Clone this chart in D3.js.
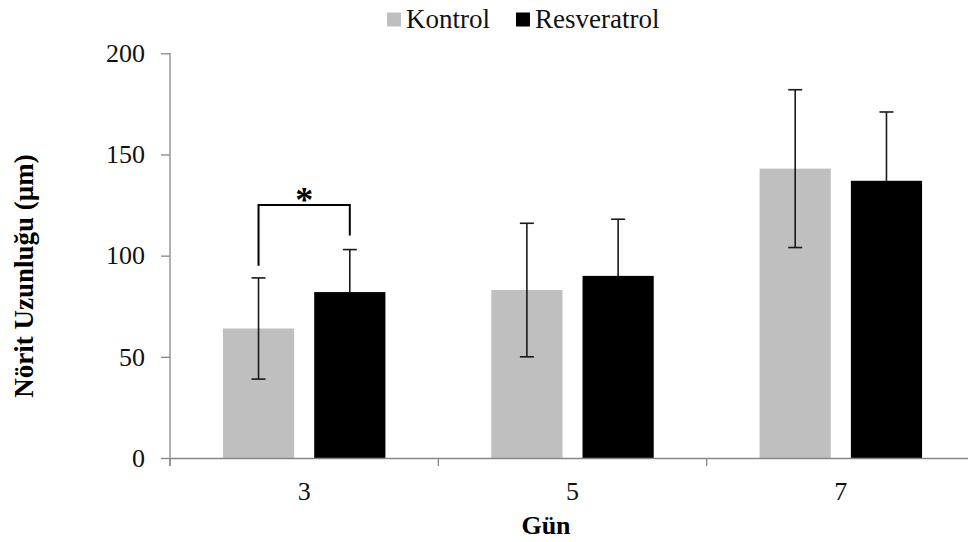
<!DOCTYPE html>
<html>
<head>
<meta charset="utf-8">
<script src="https://d3js.org/d3.v7.min.js"></script>
<style>
  body { margin: 0; background: #fff; }
  text { font-family: "Liberation Serif", "Times New Roman", serif; }
</style>
</head>
<body>
<svg id="chart" width="968" height="542"></svg>
<script>
var days = ['3', '5', '7'];
var series = ['Kontrol', 'Resveratrol'];
var colors = ['#bfbfbf', '#000000'];
var kontrol = [64, 83, 143];
var kontrolErr = [25, 33, 39];
var resveratrol = [82, 90, 137];
var resveratrolErr = [21, 28, 34];
var yTicks = [0, 50, 100, 150, 200];
// significance bracket on day 3: left leg bottom, top, right leg bottom
var sigDay = '3';
var sigLevels = [95, 125, 110];

var svg = d3.select('#chart');

var y = d3.scaleLinear().domain([0, 200]).range([458, 53.3]);
var x0 = d3.scaleBand().domain(days).range([170, 975]).padding(0);
var x1 = d3.scaleBand().domain(series).range([0, x0.bandwidth()])
    .paddingInner(0.22).paddingOuter(0.58);

var rows = [];
for (let i = 0; i < days.length; i++) {
    rows.push({ day: days[i], s: 'Kontrol', v: kontrol[i], e: kontrolErr[i], c: colors[0] });
    rows.push({ day: days[i], s: 'Resveratrol', v: resveratrol[i], e: resveratrolErr[i], c: colors[1] });
}

// bars
svg.append('g').selectAll('rect').data(rows).enter().append('rect')
    .attr('x', d => x0(d.day) + x1(d.s))
    .attr('y', d => y(d.v))
    .attr('width', x1.bandwidth())
    .attr('height', d => y(0) - y(d.v))
    .attr('fill', d => d.c);

// error bars (lower half of the black bars is hidden in the original)
let eb = svg.append('g').attr('stroke', '#1a1a1a').attr('stroke-width', 1.6);
rows.forEach(function (d) {
    let cx = x0(d.day) + x1(d.s) + x1.bandwidth() / 2;
    let lo = d.s == 'Kontrol' ? d.v - d.e : d.v;
    eb.append('line').attr('x1', cx).attr('x2', cx).attr('y1', y(d.v + d.e)).attr('y2', y(lo));
    eb.append('line').attr('x1', cx - 7).attr('x2', cx + 7).attr('y1', y(d.v + d.e)).attr('y2', y(d.v + d.e));
    if (d.s == 'Kontrol') {
        eb.append('line').attr('x1', cx - 7).attr('x2', cx + 7).attr('y1', y(lo)).attr('y2', y(lo));
    }
});

// y axis
let yAxis = svg.append('g').attr('transform', 'translate(170,0)')
    .call(d3.axisLeft(y).tickValues(yTicks).tickSize(9).tickPadding(16));
yAxis.select('.domain').attr('stroke', '#878787').attr('stroke-width', 1.3)
    .attr('d', 'M0,' + y(200) + 'V' + (y(0) + 8));
yAxis.selectAll('.tick line').attr('stroke', '#878787').attr('stroke-width', 1.3);
yAxis.selectAll('.tick text').attr('font-size', 26).attr('fill', '#111')
    .style('font-family', '"Liberation Serif", serif');

// x axis
let xAxis = svg.append('g').attr('transform', 'translate(0,' + y(0) + ')')
    .call(d3.axisBottom(x0).tickSize(0).tickPadding(24));
xAxis.select('.domain').attr('stroke', '#878787').attr('stroke-width', 1.3);
xAxis.selectAll('.tick text').attr('font-size', 26).attr('fill', '#111')
    .style('font-family', '"Liberation Serif", serif');
// boundary ticks between categories
svg.append('g').selectAll('line').data(days).enter().append('line')
    .attr('x1', d => x0(d)).attr('x2', d => x0(d))
    .attr('y1', y(0)).attr('y2', y(0) + 8)
    .attr('stroke', '#878787').attr('stroke-width', 1.3);

// significance bracket
let lx = x0(sigDay) + x1('Kontrol') + x1.bandwidth() / 2;
let rx = x0(sigDay) + x1('Resveratrol') + x1.bandwidth() / 2;
svg.append('path')
    .attr('d', 'M' + lx + ',' + y(sigLevels[0]) + 'V' + y(sigLevels[1]) + 'H' + rx + 'V' + y(sigLevels[2]))
    .attr('fill', 'none').attr('stroke', '#000').attr('stroke-width', 2);
svg.append('text').attr('x', (lx + rx) / 2).attr('y', y(sigLevels[1]) + 7)
    .attr('text-anchor', 'middle').attr('font-size', 36).attr('font-weight', 'bold').text('*');

// axis titles
svg.append('text').attr('x', 546).attr('y', 534).attr('text-anchor', 'middle')
    .attr('font-size', 26).attr('font-weight', 'bold').text('Gün');
svg.append('text').attr('transform', 'translate(33,276) rotate(-90)').attr('text-anchor', 'middle')
    .attr('font-size', 27).attr('font-weight', 'bold').text('Nörit Uzunluğu (µm)');

// legend
let lg = svg.append('g');
let legendX = [387, 516];
series.forEach(function (s, i) {
    lg.append('rect').attr('x', legendX[i]).attr('y', 12.5).attr('width', 14).attr('height', 14).attr('fill', colors[i]);
    lg.append('text').attr('x', legendX[i] + 19).attr('y', 28).attr('font-size', 27).attr('fill', '#111').text(s);
});
</script>
</body>
</html>
